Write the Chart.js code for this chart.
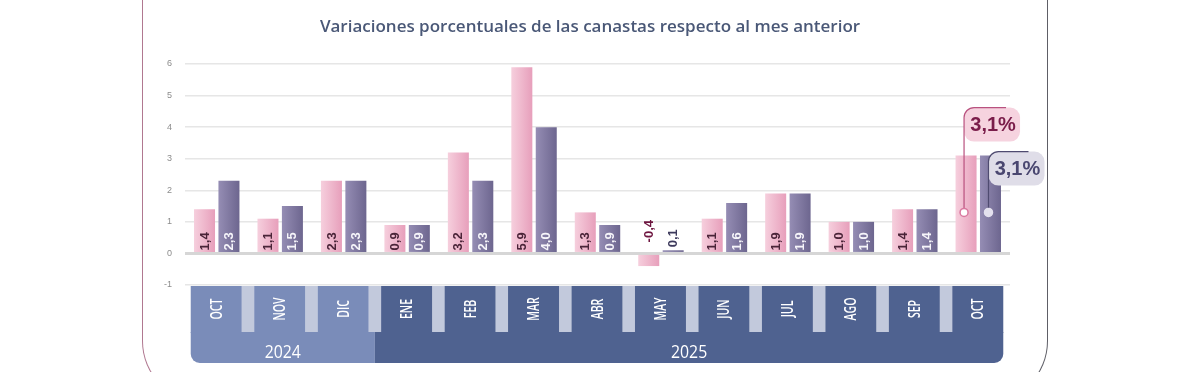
<!DOCTYPE html>
<html><head><meta charset="utf-8">
<script src="https://cdn.jsdelivr.net/npm/chart.js@4.4.1/dist/chart.umd.min.js"></script>
<style>
html,body{margin:0;padding:0;background:#fff;overflow:hidden;width:1190px;height:372px}
#frame{position:absolute;left:142px;top:-100px;width:906px;height:503px;border:1px solid #5e5e66;border-left-color:#b07890;border-radius:0 0 62px 62px;box-sizing:border-box}
#wrap{position:absolute;left:0;top:0;width:1190px;height:372px}
canvas{display:block}
</style></head><body>
<div id="frame"></div>
<div id="wrap"><canvas id="c" width="1190" height="372" style="width:1190px;height:372px"></canvas></div>
<script>
const title = 'Variaciones porcentuales de las canastas respecto al mes anterior';
const months = ['OCT','NOV','DIC','ENE','FEB','MAR','ABR','MAY','JUN','JUL','AGO','SEP','OCT'];
const yearLabels = ['2024','2025'];
const yearMonthCounts = [3, 10];
const seriesNames = ['CBA','CBT'];
const cbaValues = [1.4,1.1,2.3,0.9,3.2,5.9,1.3,-0.4,1.1,1.9,1.0,1.4,3.1];
const cbtValues = [2.3,1.5,2.3,0.9,2.3,4.0,0.9,0.1,1.6,1.9,1.0,1.4,3.1];
const yTicks = [-1,0,1,2,3,4,5,6];
const calloutLabels = ['3,1%','3,1%'];

const fmt = v => v.toFixed(1).replace('.', ',');

const gradStops = [['#f6cfdd','#e79fbb'],['#958db4','#6d668f']];

const gradientPlugin = {
  id:'grad',
  beforeDatasetDraw(chart, args){
    const ctx = chart.ctx;
    const st = gradStops[args.index];
    args.meta.data.forEach(el=>{
      const g = ctx.createLinearGradient(el.x - el.width/2, 0, el.x + el.width/2, 0);
      g.addColorStop(0, st[0]); g.addColorStop(1, st[1]);
      el.options = Object.assign({}, el.options, {backgroundColor: g});
    });
  }
};

const labelPlugin = {
  id:'labels',
  afterDatasetsDraw(chart){
    const ctx = chart.ctx;
    const y = chart.scales.y;
    const zero = y.getPixelForValue(0);
    ctx.save();
    ctx.font = 'bold 13px "Liberation Sans", Arial, sans-serif';
    ctx.textAlign = 'left'; ctx.textBaseline = 'middle';
    chart.data.datasets.forEach((ds, di)=>{
      const meta = chart.getDatasetMeta(di);
      ds.data.forEach((v, i)=>{
        if (i === ds.data.length - 1) return;
        const el = meta.data[i];
        const txt = fmt(v);
        const w = ctx.measureText(txt).width;
        let start, color;
        if (v < 0) { start = zero - 11; color = di === 0 ? '#6e1640' : '#3d3a5c'; }
        else if (zero - el.y < w + 5) { start = el.y - 3; color = di === 0 ? '#6e1640' : '#3d3a5c'; }
        else { start = zero - 3; color = di === 0 ? '#4a2438' : '#f6f5fa'; }
        ctx.save();
        ctx.translate(el.x + 0.5, start);
        ctx.rotate(-Math.PI/2);
        ctx.fillStyle = color;
        ctx.fillText(txt, 0, 0);
        ctx.restore();
      });
    });
    ctx.restore();
  }
};

function rr(ctx, x, y, w, h, r){
  ctx.beginPath();
  ctx.moveTo(x + r, y);
  ctx.lineTo(x + w - r, y); ctx.arcTo(x + w, y, x + w, y + r, r);
  ctx.lineTo(x + w, y + h - r); ctx.arcTo(x + w, y + h, x + w - r, y + h, r);
  ctx.lineTo(x + r, y + h); ctx.arcTo(x, y + h, x, y + h - r, r);
  ctx.lineTo(x, y + r); ctx.arcTo(x, y, x + r, y, r);
  ctx.closePath();
}

const decorPlugin = {
  id:'decor',
  afterDraw(chart){
    const ctx = chart.ctx;
    const xs = chart.scales.x;
    const ys = chart.scales.y;
    ctx.save();
    ctx.font = '600 17px "Open Sans", sans-serif';
    ctx.fillStyle = '#4a5877';
    ctx.textAlign = 'center'; ctx.textBaseline = 'middle';
    ctx.fillText(title, 590, 27);

    const boxW = 51, top = 286, midB = 332, bot = 363;
    const centers = months.map((m,i)=>xs.getPixelForValue(i) - 0.5);
    const lefts = centers.map(c=>c - boxW/2);
    const rights = centers.map(c=>c + boxW/2);
    const col24 = '#7a8cb9', col25 = '#4f6290', gapCol = '#c2c9dc';
    ctx.fillStyle = gapCol;
    for (let i=0;i<months.length-1;i++) ctx.fillRect(rights[i], top, lefts[i+1]-rights[i], midB-top);
    let idx = 0;
    const splits = [];
    yearMonthCounts.forEach((n, k)=>{
      const first = idx, last = idx + n - 1;
      const L = k === 0 ? lefts[first] : (rights[first-1] + lefts[first]) / 2;
      const R = k === yearMonthCounts.length - 1 ? rights[last] : (rights[last] + lefts[last+1]) / 2;
      splits.push([L, R, first, last]);
      idx += n;
    });
    splits.forEach(([L,R,first,last], k)=>{
      const c = k === 0 ? col24 : col25;
      ctx.fillStyle = c;
      for (let i=first;i<=last;i++) ctx.fillRect(lefts[i], top, boxW, midB-top+1);
      const r = 9;
      ctx.beginPath();
      ctx.moveTo(L, midB);
      ctx.lineTo(R, midB);
      if (k === splits.length-1){ ctx.lineTo(R, bot - r); ctx.arcTo(R, bot, R - r, bot, r); }
      else ctx.lineTo(R, bot);
      if (k === 0){ ctx.lineTo(L + r, bot); ctx.arcTo(L, bot, L, bot - r, r); }
      else ctx.lineTo(L, bot);
      ctx.closePath(); ctx.fill();
      ctx.save();
      ctx.fillStyle = '#ffffff';
      ctx.font = '500 18px "Open Sans", sans-serif';
      ctx.textAlign = 'center'; ctx.textBaseline = 'middle';
      ctx.translate((L + R) / 2, 353);
      ctx.scale(0.88, 1);
      ctx.fillText(yearLabels[k], 0, 0);
      ctx.restore();
    });
    ctx.font = '600 16px "Open Sans", sans-serif';
    ctx.fillStyle = '#ffffff';
    months.forEach((m,i)=>{
      ctx.save();
      ctx.translate(centers[i] + 1, 309);
      ctx.rotate(-Math.PI/2);
      ctx.scale(0.66, 1);
      ctx.textAlign = 'center'; ctx.textBaseline = 'middle';
      ctx.fillText(m, 0, 0);
      ctx.restore();
    });

    const last = months.length - 1;
    const cfg = [
      {fill:'#f6d3df', line:'#b9527f', text:'#7a1d4a', mFill:'#ffffff', mStroke:'#d9789f', dy:-48, lineLen:42},
      {fill:'#dfdde8', line:'#4f4b70', text:'#4a4770', mFill:'#e4e1ee', mStroke:'#e4e1ee', dy:-4, lineLen:40}
    ];
    [0,1].forEach(di=>{
      const el = chart.getDatasetMeta(di).data[last];
      const c = cfg[di];
      const mx = el.x - 2, my = ys.getPixelForValue(1.3);
      const bx = mx, by = el.y + c.dy, bw = 56, bh = 34, r = 10;
      ctx.fillStyle = c.fill;
      rr(ctx, bx, by, bw, bh, r); ctx.fill();
      ctx.strokeStyle = c.line; ctx.lineWidth = 1.2;
      ctx.beginPath();
      ctx.moveTo(mx, my - 4);
      ctx.lineTo(mx, by + r);
      ctx.arcTo(mx, by, mx + r, by, r);
      ctx.lineTo(mx + c.lineLen, by);
      ctx.stroke();
      ctx.beginPath(); ctx.arc(mx, my, 4, 0, Math.PI*2);
      ctx.fillStyle = c.mFill; ctx.fill();
      ctx.strokeStyle = c.mStroke; ctx.lineWidth = 1.5; ctx.stroke();
      ctx.font = 'bold 20px "Liberation Sans", Arial, sans-serif';
      ctx.fillStyle = c.text; ctx.textAlign = 'center'; ctx.textBaseline = 'middle';
      ctx.fillText(calloutLabels[di], bx + bw/2 + 1, by + bh/2 + 1);
    });
    ctx.restore();
  }
};

new Chart(document.getElementById('c'), {
  type:'bar',
  data:{
    labels: months,
    datasets:[
      {label:seriesNames[0], data:cbaValues, backgroundColor:'#eeb3c8', borderWidth:0},
      {label:seriesNames[1], data:cbtValues, backgroundColor:'#7f77a0', borderWidth:0}
    ]
  },
  options:{
    responsive:false,
    maintainAspectRatio:false,
    animation:false,
    devicePixelRatio:1,
    layout:{padding:{top:64, bottom:87, left:0, right:180}},
    categoryPercentage:0.77,
    barPercentage:0.86,
    plugins:{legend:{display:false}, title:{display:false}, tooltip:{enabled:false}},
    scales:{
      x:{display:false},
      y:{
        min:-1, max:6,
        afterFit(s){ s.width = 185; },
        afterBuildTicks(s){ s.ticks = yTicks.map(v=>({value:v})); },
        border:{display:false},
        grid:{
          drawTicks:false,
          color:c=> c.tick && c.tick.value === 0 ? '#d6d6d6' : '#e6e6e6',
          lineWidth:c=> c.tick && c.tick.value === 0 ? 3 : 1.5
        },
        ticks:{padding:13, color:'#8c8c8c', font:{size:9, family:'"Liberation Sans", Arial, sans-serif'}}
      }
    }
  },
  plugins:[gradientPlugin, labelPlugin, decorPlugin]
});
</script>
</body></html>
